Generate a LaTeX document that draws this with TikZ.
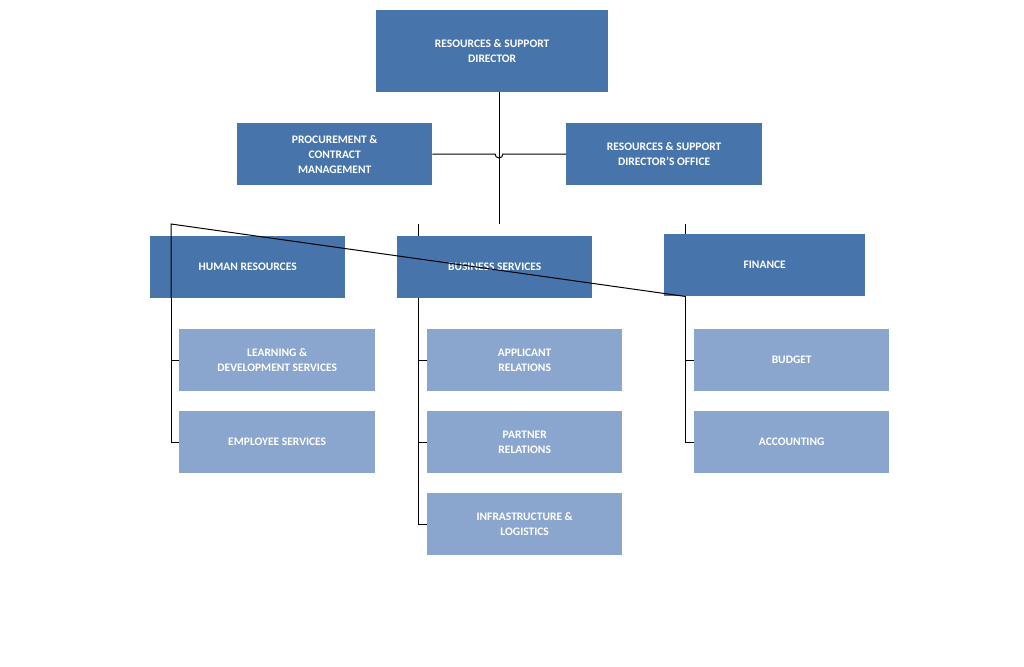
\documentclass[tikz,border=0pt]{standalone}
\usepackage{fontspec}
\setmainfont{Carlito}
\definecolor{dk}{HTML}{4774AA}
\definecolor{lt}{HTML}{8BA6CE}
\begin{document}
\begin{tikzpicture}[x=1pt,y=-1pt,
 box/.style={fill=dk,text=white,font=\fontsize{11.5}{15}\selectfont\bfseries,align=center,inner sep=0pt,anchor=north west},
 sub/.style={box,fill=lt},
 ln/.style={draw=black,line width=1pt}]
\useasboundingbox (0,0) rectangle (1024,666);
\newcommand\bx[6]{\node[#1,minimum width=#4-#2,minimum height=#5-#3] (#6) at (#2,#3) {};}
\node[box,minimum width=232,minimum height=82] (dir) at (376,10) {RESOURCES \& SUPPORT\\DIRECTOR};
\node[box,minimum width=195,minimum height=62] (proc) at (237,123) {PROCUREMENT \&\\CONTRACT\\MANAGEMENT};
\node[box,minimum width=196,minimum height=62] (off) at (566,123) {RESOURCES \& SUPPORT\\DIRECTOR’S OFFICE};
\node[box,minimum width=195,minimum height=62] (hr) at (150,236) {HUMAN RESOURCES};
\node[box,minimum width=195,minimum height=62] (bs) at (397,236) {BUSINESS SERVICES};
\node[box,minimum width=201,minimum height=62] (fin) at (664,234) {FINANCE};
\node[sub,minimum width=196,minimum height=62] (ld) at (179,329) {LEARNING \&\\DEVELOPMENT SERVICES};
\node[sub,minimum width=196,minimum height=62] (es) at (179,411) {EMPLOYEE SERVICES};
\node[sub,minimum width=195,minimum height=62] (ar) at (427,329) {APPLICANT\\RELATIONS};
\node[sub,minimum width=195,minimum height=62] (pr) at (427,411) {PARTNER\\RELATIONS};
\node[sub,minimum width=195,minimum height=62] (il) at (427,493) {INFRASTRUCTURE \&\\LOGISTICS};
\node[sub,minimum width=195,minimum height=62] (bu) at (694,329) {BUDGET};
\node[sub,minimum width=195,minimum height=62] (ac) at (694,411) {ACCOUNTING};
\coordinate (bar) at (499,224);
\draw[ln] (dir.south -| bar) -- (bar);
\draw[ln] (proc.east) -- (495,154) arc[start angle=180,end angle=0,radius=4] -- (off.west);
\draw[ln] (hr.south west) ++(21,0) coordinate (hx) -- (hx |- bar) -- (fin.south west -| 685,0) coordinate (fx);
\draw[ln] (685,224) -- (685,234);
\draw[ln] (418,224) -- (bs.north -| 418,0);
\draw[ln] (hx) -- (hx |- es.west) -- (es.west);
\draw[ln] (hx |- ld.west) -- (ld.west);
\draw[ln] (418,298) |- (il.west);
\draw[ln] (418,0 |- ar.west) -- (ar.west);
\draw[ln] (418,0 |- pr.west) -- (pr.west);
\draw[ln] (685,296) |- (ac.west);
\draw[ln] (685,0 |- bu.west) -- (bu.west);
\end{tikzpicture}
\end{document}
